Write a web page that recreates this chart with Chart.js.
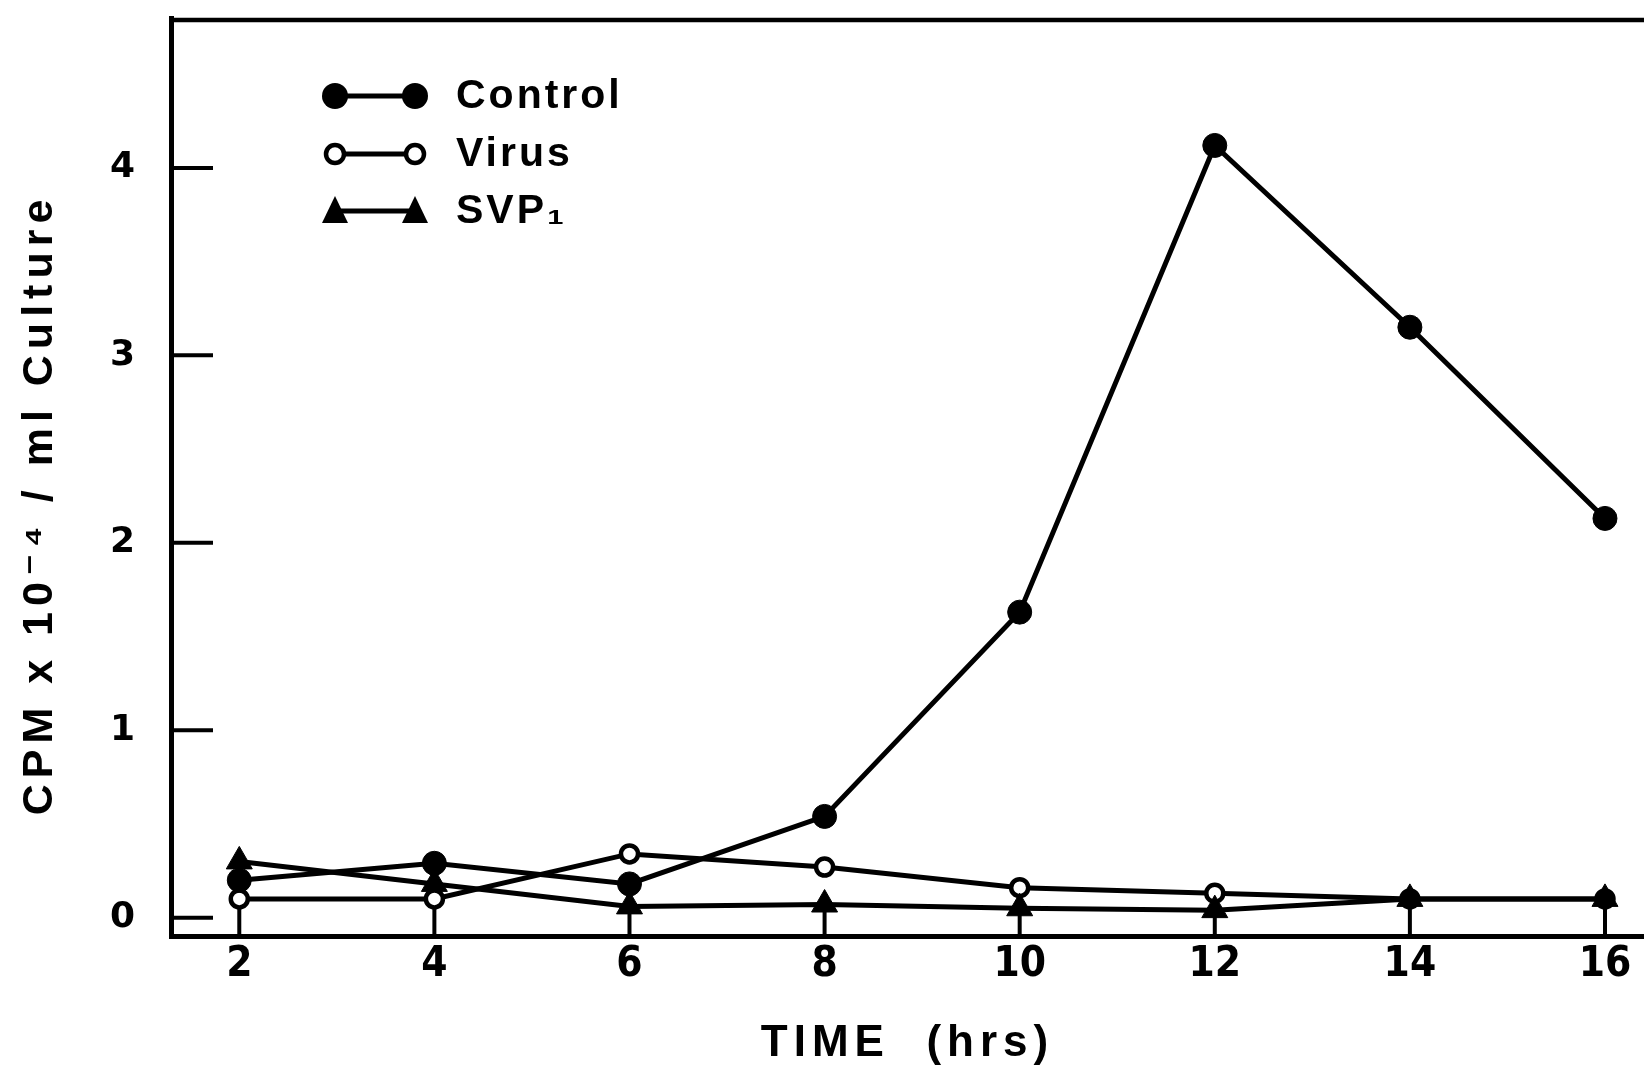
<!DOCTYPE html>
<html>
<head>
<meta charset="utf-8">
<script src="https://cdn.jsdelivr.net/npm/chart.js@4.4.1/dist/chart.umd.min.js"></script>
<style>
html, body { margin: 0; padding: 0; background: #fff; }
canvas { display: block; }
</style>
</head>
<body>
<canvas id="c" width="1644" height="1068"></canvas>
<script>
// ---- data ----
const hours   = [2, 4, 6, 8, 10, 12, 14, 16];
const control = [0.20, 0.29, 0.18, 0.54, 1.63, 4.12, 3.15, 2.13];
const virus   = [0.10, 0.10, 0.34, 0.27, 0.16, 0.13, 0.10, 0.10];
const svp1    = [0.30, 0.18, 0.06, 0.07, 0.05, 0.04, 0.10, 0.10];
const xTickValues = [2, 4, 6, 8, 10, 12, 14, 16];
const yTickValues = [0, 1, 2, 3, 4];
const seriesNames = ['Control', 'Virus', 'SVP\u2081'];
const xTitle = 'TIME  (hrs)';
const yTitle = 'CPM x 10\u207B\u2074 / ml Culture';

const ink = '#000';
const sansBold = "'Liberation Sans', Arial, 'DejaVu Sans', sans-serif";
const narrow = "'DejaVu Sans Condensed', 'Liberation Sans Narrow', 'DejaVu Sans', sans-serif";

const toXY = (ys) => hours.map((h, i) => ({ x: h, y: ys[i] }));

const frameAndTicks = {
  id: 'frameAndTicks',
  beforeDraw(chart) {
    chart.ctx.letterSpacing = '6px';   // axis titles are drawn widely spaced
  },
  beforeDatasetsDraw(chart) {
    const { ctx, chartArea: a, scales: { x, y } } = chart;
    ctx.save();
    ctx.letterSpacing = '0px';
    ctx.strokeStyle = ink;
    ctx.lineCap = 'butt';
    ctx.lineWidth = 4.5;
    ctx.beginPath();
    ctx.moveTo(a.left - 2, a.top + 2);
    ctx.lineTo(a.right, a.top + 2);
    ctx.stroke();
    ctx.lineWidth = 4;
    y.ticks.forEach(t => {
      const py = y.getPixelForValue(t.value);
      ctx.beginPath();
      ctx.moveTo(a.left, py);
      ctx.lineTo(a.left + 42, py);
      ctx.stroke();
    });
    x.ticks.forEach(t => {
      const px = x.getPixelForValue(t.value);
      ctx.beginPath();
      ctx.moveTo(px, a.bottom);
      ctx.lineTo(px, a.bottom - 28);
      ctx.stroke();
    });
    ctx.restore();
  },
  afterDatasetsDraw(chart) {
    chart.ctx.letterSpacing = '0px';   // tick labels (z = 1) drawn without spacing
  }
};

function drawMarker(ctx, kind, cx, cy) {
  ctx.beginPath();
  if (kind === 0) {
    ctx.arc(cx, cy, 13, 0, Math.PI * 2);
    ctx.fillStyle = ink; ctx.fill();
  } else if (kind === 1) {
    ctx.arc(cx, cy, 9, 0, Math.PI * 2);
    ctx.fillStyle = '#fff'; ctx.fill();
    ctx.lineWidth = 4.5; ctx.strokeStyle = ink; ctx.stroke();
  } else {
    ctx.moveTo(cx, cy - 15);
    ctx.lineTo(cx + 13, cy + 12);
    ctx.lineTo(cx - 13, cy + 12);
    ctx.closePath();
    ctx.fillStyle = ink; ctx.fill();
  }
}

const seriesKey = {
  id: 'seriesKey',
  afterDraw(chart) {
    const ctx = chart.ctx;
    const rows = [96, 154, 211];
    const x1 = 335, x2 = 415, tx = 456;
    ctx.save();
    ctx.letterSpacing = '3px';
    chart.data.datasets.forEach((ds, i) => {
      const yy = rows[i];
      ctx.strokeStyle = ink;
      ctx.lineWidth = 5;
      ctx.beginPath();
      ctx.moveTo(x1, yy); ctx.lineTo(x2, yy); ctx.stroke();
      drawMarker(ctx, i, x1, yy);
      drawMarker(ctx, i, x2, yy);
      ctx.fillStyle = ink;
      ctx.font = "bold 41px " + sansBold;
      ctx.textBaseline = 'middle';
      ctx.textAlign = 'left';
      ctx.fillText(ds.label, tx, yy + 1);
    });
    ctx.restore();
  }
};

new Chart(document.getElementById('c'), {
  type: 'line',
  data: {
    datasets: [
      { label: seriesNames[0], data: toXY(control), borderColor: ink, borderWidth: 5,
        pointStyle: 'circle', pointRadius: 12, pointBackgroundColor: ink, pointBorderColor: ink,
        pointBorderWidth: 1, tension: 0, order: 1 },
      { label: seriesNames[1], data: toXY(virus), borderColor: ink, borderWidth: 5,
        pointStyle: 'circle', pointRadius: 8.5, pointBackgroundColor: '#fff', pointBorderColor: ink,
        pointBorderWidth: 4.5, tension: 0, order: 2 },
      { label: seriesNames[2], data: toXY(svp1), borderColor: ink, borderWidth: 5,
        pointStyle: 'triangle', pointRadius: 15, pointBackgroundColor: ink, pointBorderColor: ink,
        pointBorderWidth: 1, tension: 0, order: 0 }
    ]
  },
  options: {
    responsive: false,
    animation: false,
    devicePixelRatio: 1,
    layout: { autoPadding: false, padding: { top: 15, right: 0, bottom: 0, left: 0 } },
    plugins: { legend: { display: false }, tooltip: { enabled: false } },
    scales: {
      x: {
        type: 'linear', position: 'bottom', min: 1.3, max: 16.4,
        afterFit: (s) => { s.height = 132; },
        afterBuildTicks: (s) => { s.ticks = xTickValues.map(v => ({ value: v })); },
        grid: { display: false, drawTicks: true, tickLength: 8 },
        border: { display: true, color: ink, width: 5 },
        ticks: { z: 1, padding: 0, color: ink, autoSkip: false, maxRotation: 0,
          font: { family: narrow, size: 42, weight: 'bold', lineHeight: 1 },
          callback: (v) => String(v) },
        title: { display: true, text: xTitle, color: ink,
          font: { family: sansBold, size: 44, weight: 'bold', lineHeight: 1 },
          padding: { top: 0, bottom: 2 } }
      },
      y: {
        type: 'linear', position: 'left', min: -0.098, max: 4.8,
        afterFit: (s) => { s.width = 171; },
        afterBuildTicks: (s) => { s.ticks = yTickValues.map(v => ({ value: v })); },
        grid: { display: false, drawTicks: true, tickLength: 36 },
        border: { display: true, color: ink, width: 5 },
        ticks: { z: 1, padding: 0, color: ink,
          font: { family: "'DejaVu Sans', sans-serif", size: 36, weight: 'bold', lineHeight: 1 },
          callback: (v) => String(v) },
        title: { display: true, text: yTitle + '\u2002\u2002', color: ink,
          font: { family: sansBold, size: 43, weight: 'bold', lineHeight: 1 },
          padding: { top: 19, bottom: 0 } }
      }
    }
  },
  plugins: [frameAndTicks, seriesKey]
});
</script>
</body>
</html>
